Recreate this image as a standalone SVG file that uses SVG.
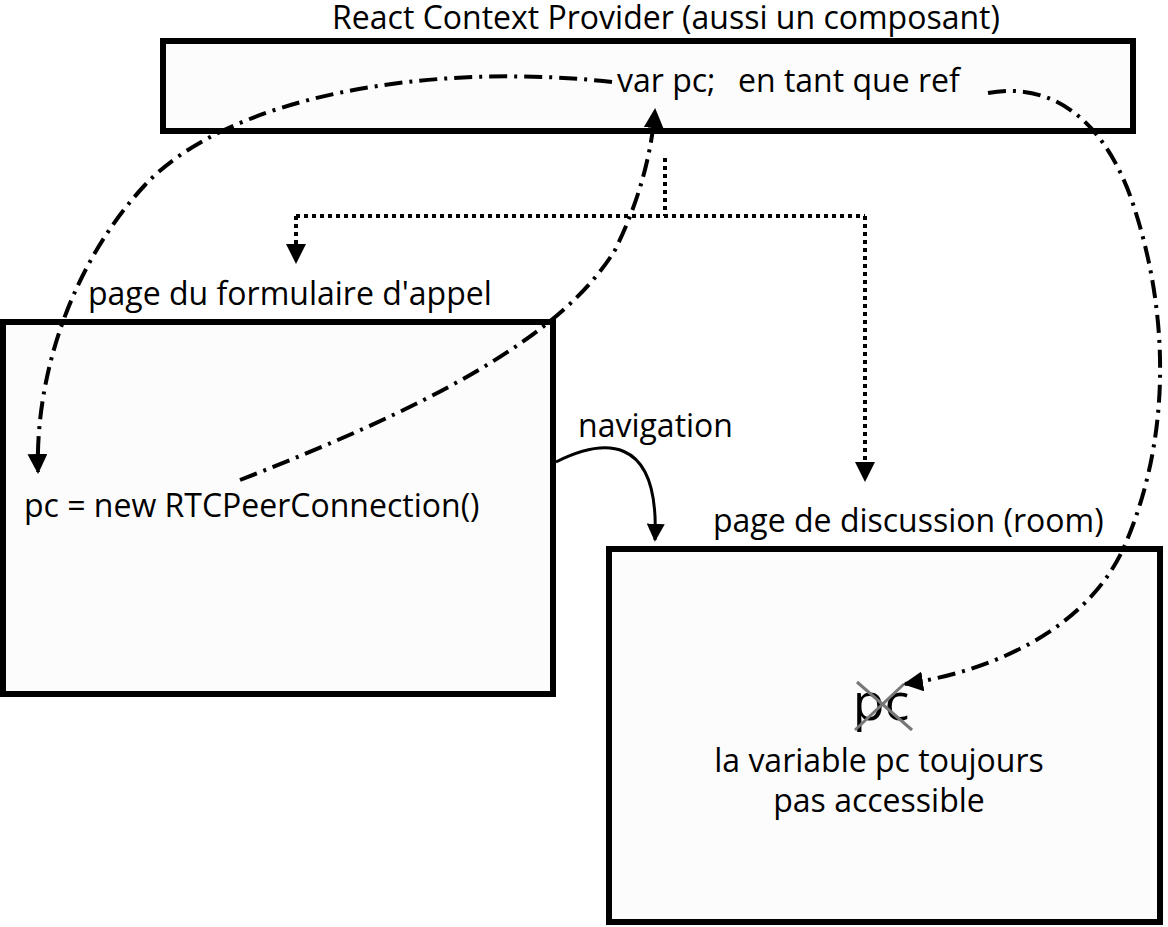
<svg xmlns="http://www.w3.org/2000/svg" width="1168" height="927" viewBox="0 0 1168 927">
<defs>
<style>
.box{fill:#fcfcfc;stroke:#000;stroke-width:6}
.t{font-family:"Open Sans","Noto Sans",sans-serif;font-size:32px;fill:#000}
.big{font-size:52px}
.dd{fill:none;stroke:#000;stroke-width:4;stroke-dasharray:18 7 3 7}
.dot{fill:none;stroke:#000;stroke-width:4;stroke-dasharray:4 4}
.sol{fill:none;stroke:#000;stroke-width:3}
</style>
<marker id="ah" viewBox="0 0 10 10" refX="9" refY="5" markerWidth="5" markerHeight="5" markerUnits="strokeWidth" orient="auto">
<path d="M0,0 L10,5 L0,10 z" fill="#000"/>
</marker>
<marker id="ah2" viewBox="0 0 10 10" refX="9" refY="5" markerWidth="6" markerHeight="6" markerUnits="strokeWidth" orient="auto">
<path d="M0,0 L10,5 L0,10 z" fill="#000"/>
</marker>
</defs>
<rect width="1168" height="927" fill="#fff"/>
<g id="provider">
<rect class="box" x="163" y="41" width="970" height="90"/>
<text class="t" x="666" y="29" text-anchor="middle">React Context Provider (aussi un composant)</text>
<text class="t" x="617" y="92">var pc;</text>
<text class="t" x="738" y="92">en tant que ref</text>
</g>
<g id="formulaire">
<rect class="box" x="3" y="322" width="550" height="372"/>
<text class="t" x="88" y="305">page du formulaire d'appel</text>
<text class="t" x="24" y="517">pc = new RTCPeerConnection()</text>
</g>
<g id="discussion">
<rect class="box" x="609" y="549" width="551" height="373"/>
<text class="t" x="713" y="532">page de discussion (room)</text>
<text class="t big" x="881" y="720" text-anchor="middle">pc</text>
<line x1="857" y1="682" x2="912" y2="730" stroke="#777" stroke-width="3"/>
<line x1="855" y1="730" x2="904" y2="684" stroke="#777" stroke-width="3"/>
<text class="t" x="879" y="772" text-anchor="middle">la variable pc toujours</text>
<text class="t" x="879" y="812" text-anchor="middle">pas accessible</text>
</g>
<g id="connectors">
<text class="t" x="578" y="437">navigation</text>
<path class="dot" d="M665,158 V216 M296,216 H865" />
<path class="dot" d="M296,216 V262" marker-end="url(#ah)"/>
<path class="dot" d="M865,216 V480" marker-end="url(#ah)"/>
<path class="dd" d="M612,82 C430,62 230,95 145,185 C75,260 35,370 38,472" marker-end="url(#ah)"/>
<path class="dd" d="M240,480 C420,410 560,340 615,250 C640,200 652,150 655,110" marker-end="url(#ah)"/>
<path class="dd" d="M988,93 C1060,80 1110,130 1135,210 C1170,320 1170,440 1125,545 C1090,625 1000,670 905,684" marker-end="url(#ah)"/>
<path class="sol" d="M556,462 C600,440 660,430 655,540" marker-end="url(#ah2)"/>
</g>
</svg>
